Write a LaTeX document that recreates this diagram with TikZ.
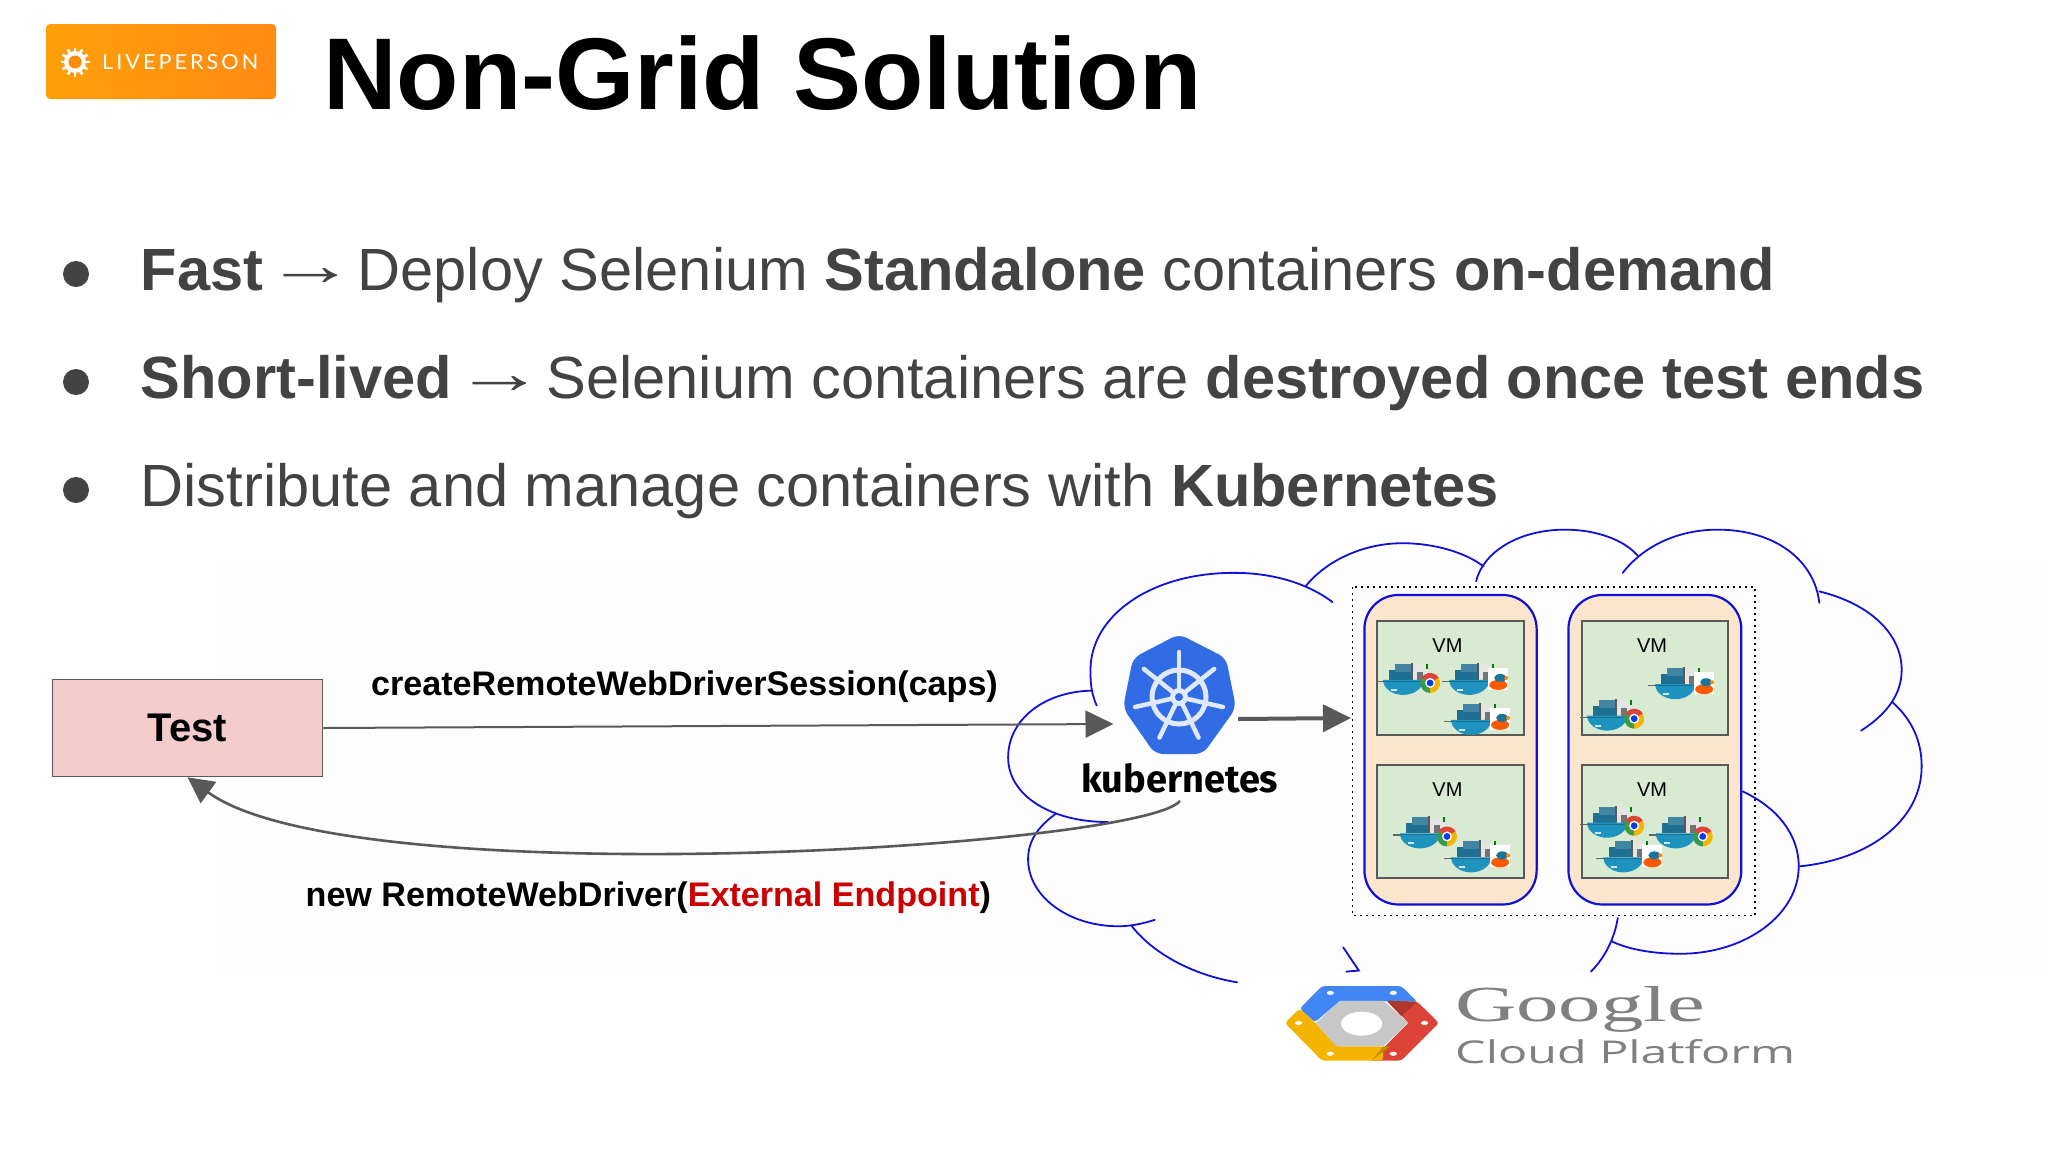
\documentclass[tikz,border=0pt]{standalone}
\usepackage{graphicx}
\usepackage{fontspec}
\setmainfont{Liberation Sans}
\newfontfamily\opensans{Open Sans}
\newfontfamily\serifg{Liberation Serif}
\newfontfamily\kfont{Fira Sans}
\newfontfamily\lpfont[LetterSpace=14]{Lato}
\usetikzlibrary{arrows.meta,calc}
\definecolor{bodygray}{HTML}{434343}
\definecolor{arrowgray}{HTML}{595959}
\definecolor{cloudblue}{HTML}{1010D8}
\definecolor{podfill}{HTML}{FCE5CD}
\definecolor{vmfill}{HTML}{D9EAD3}
\definecolor{testfill}{HTML}{F4CCCC}
\definecolor{kblue}{HTML}{326CE5}
\definecolor{kwhite}{HTML}{DFE9FB}
\definecolor{hull}{HTML}{1F93C0}
\definecolor{box}{HTML}{1F6F92}
\definecolor{gblue}{HTML}{4285F4}
\definecolor{gred}{HTML}{DB4437}
\definecolor{gyellow}{HTML}{F4B400}
\definecolor{ggreen}{HTML}{3B9A4A}
\definecolor{tint}{HTML}{FDFDFE}
\newcommand\pxsize[1]{\fontsize{#1}{#1}\selectfont}
\newcommand\longarrow{\kern-14pt\raisebox{5pt}{\scalebox{1.52}[1]{→}}\kern-15.3pt}
\tikzset{
  bullettext/.style={anchor=base west,inner sep=0pt,text=bodygray,font=\pxsize{59.6}},
  cloudline/.style={draw=cloudblue,line width=1.8pt,line cap=round},
  podbox/.style={draw=cloudblue,line width=2.2pt,fill=podfill,rounded corners=34pt},
  vmbox/.style={draw=arrowgray,line width=2pt,fill=vmfill},
  vmlabel/.style={inner sep=0pt,font=\pxsize{20}},
  flowlabel/.style={anchor=base west,inner sep=0pt,font=\pxsize{34.1}\bfseries},
}
\newcommand\chromeicon{%
  \fill[gred] (27,3) -- ++(-150:10) arc[start angle=-150,delta angle=120,radius=10] -- cycle;
  \fill[gyellow] (27,3) -- ++(-30:10) arc[start angle=-30,delta angle=120,radius=10] -- cycle;
  \fill[ggreen] (27,3) -- ++(90:10) arc[start angle=90,delta angle=120,radius=10] -- cycle;
  \fill[white!85!vmfill] (27,3) circle (5);
  \fill[blue!60!hull] (27,3) circle (3.4);
}
\newcommand\foxicon{%
  \fill[white] (19,-12) rectangle (39,10);
  \fill[orange!70!red] (29,5) ellipse (9 and 5);
  \fill[hull!80!black] (31,-2) ellipse (6 and 4);
  \fill[orange!90!yellow] (37,-2) circle (2);
}
\newcommand\whale[3]{%
  \begin{scope}[shift={(#1,#2)},x=1pt,y=-1pt]
    \fill[box] (-14,-10) rectangle (8,0);
    \fill[box!85!white] (-8,-16) rectangle (8,-8);
    \fill[black!65] (8,-17) rectangle (10,0);
    \fill[white!80!gray] (10,-15) rectangle (25,0);
    \fill[black!55] (14,-8) rectangle (20,0);
    \fill[green!50!black] (23,-16) rectangle (25,-11);
    \draw[black!60,line width=1.2pt] (-27,1.5) -- (-20,1.5);
    \fill[hull] (-20,0) -- (20,0) .. controls (20,9) and (10,15) .. (0,15) .. controls (-10,15) and (-20,9) .. (-20,0) -- cycle;
    \draw[box,line width=1pt] (-20,1.5) -- (20,1.5);
    \fill[white!80!hull] (-12,9) rectangle (-6,11);
    #3
  \end{scope}%
}
\begin{document}
\begin{tikzpicture}[x=1pt,y=-1pt]
\useasboundingbox (0,0) rectangle (2048,1152);
\fill[white] (0,0) rectangle (2048,1152);
\fill[tint] (215,560) rectangle (2048,972);

% logo
\shade[left color={rgb,255:red,255;green,160;blue,10},right color={rgb,255:red,255;green,138;blue,18},rounded corners=4pt] (46,24) rectangle (276,99);
\node[name=lpsun,circle,fill=white,minimum size=22pt,inner sep=0pt] at (75,62) {};
\foreach \a in {0,30,...,330}{\draw[white,line width=2.6pt] (lpsun.center) ++(\a:9) -- ++(\a:5.5);}
\fill[orange!90!yellow] (lpsun.center) circle (6.5);
\node[name=lptext,anchor=base west,inner sep=0pt,text=white] at (102,69) {\resizebox{156pt}{15pt}{\lpfont LIVEPERSON}};

% title
\node[name=title,anchor=base west,inner sep=0pt,font=\pxsize{102}\bfseries] at (323,109) {Non-Grid Solution};

% bullets
\node[name=b1,circle,fill=bodygray,minimum size=26pt,inner sep=0pt] at (76,274) {};
\node[name=b2,circle,fill=bodygray,minimum size=26pt,inner sep=0pt] at (76,382) {};
\node[name=b3,circle,fill=bodygray,minimum size=26pt,inner sep=0pt] at (76,490) {};
\node[name=t1,bullettext] at (140.5,290.5) {\textbf{Fast} \longarrow{} Deploy Selenium \textbf{Standalone} containers \textbf{on-demand}};
\node[name=t2,bullettext] at (140.5,398.5) {\textbf{Short-lived} \longarrow{} Selenium containers are \textbf{destroyed once test ends}};
\node[name=t3,bullettext] at (140.5,506.5) {Distribute and manage containers with \textbf{Kubernetes}};

% cloud, in stretched local units
\begin{scope}[shift={(1000,520)},x=0.624pt,y=-0.357pt]
  \draw[cloudline] (173,846) .. controls (80,846) and (13,770) .. (13,665) .. controls (13,560) and (70,480) .. (148,478);
  \draw[cloudline] (155,520) .. controls (145,480) and (145,450) .. (145,420) .. controls (145,270) and (240,148) .. (375,148) .. controls (440,148) and (495,180) .. (533,230);
  \draw[cloudline] (490,185) .. controls (525,110) and (585,65) .. (645,65) .. controls (695,65) and (745,90) .. (775,130);
  \draw[cloudline] (763,172) .. controls (775,85) and (835,27) .. (905,27) .. controls (955,27) and (1000,55) .. (1022,100);
  \draw[cloudline] (998,148) .. controls (1030,75) and (1085,27) .. (1150,27) .. controls (1240,27) and (1305,110) .. (1313,232);
  \draw[cloudline] (1313,200) .. controls (1395,235) and (1445,320) .. (1445,420) .. controls (1445,490) and (1420,545) .. (1380,590);
  \draw[cloudline] (1430,510) .. controls (1462,560) and (1477,620) .. (1477,690) .. controls (1477,840) and (1395,950) .. (1282,970);
  \draw[cloudline] (1190,760) .. controls (1245,805) and (1280,880) .. (1280,970) .. controls (1280,1105) and (1195,1215) .. (1090,1215) .. controls (1050,1215) and (1010,1205) .. (980,1180);
  \draw[cloudline] (990,1115) .. controls (985,1170) and (970,1225) .. (947,1265);
  \draw[cloudline] (210,1135) .. controls (245,1215) and (310,1275) .. (380,1295);
  \draw[cloudline] (90,822) .. controls (60,860) and (45,900) .. (45,950) .. controls (45,1055) and (110,1138) .. (190,1138) .. controls (210,1138) and (230,1130) .. (248,1120);
  \draw[cloudline] (550,1197) -- (575,1262) -- (555,1265);

  % cluster and VM hosts
  \draw[black,line width=1.6pt,dash pattern=on 2pt off 4pt] (565,187) rectangle (1210,1108);
  \draw[podbox] (584,210) rectangle (860,1077);
  \draw[podbox] (911,210) rectangle (1188,1077);
  \draw[vmbox] (604,282) rectangle (840,601);
  \draw[vmbox] (604,685) rectangle (840,1003);
  \draw[vmbox] (932,282) rectangle (1167,601);
  \draw[vmbox] (932,685) rectangle (1167,1003);
  \node[name=vm1,vmlabel] at (717,352) {VM};
  \node[name=vm2,vmlabel] at (717,755) {VM};
  \node[name=vm3,vmlabel] at (1045,352) {VM};
  \node[name=vm4,vmlabel] at (1045,755) {VM};

  \whale{646}{448}{\chromeicon}
  \whale{752}{448}{\foxicon}
  \whale{755}{560}{\foxicon}
  \whale{1082}{460}{\foxicon}
  \whale{973}{548}{\chromeicon}
  \whale{673}{878}{\chromeicon}
  \whale{755}{945}{\foxicon}
  \whale{973}{848}{\chromeicon}
  \whale{1083}{878}{\chromeicon}
  \whale{999}{945}{\foxicon}
\end{scope}

% kubernetes logo
\fill[kblue,rounded corners=8pt] (1179,634) -- (1226,658) -- (1236,708) -- (1203,754) -- (1155,754) -- (1123,708) -- (1133,658) -- cycle;
\coordinate (wheel) at (1179,697);
\draw[kwhite,line width=5pt] (wheel) circle (27);
\foreach \a in {90,141.43,192.86,244.29,295.71,347.14,38.57}{
  \draw[kwhite,line width=4.5pt,line cap=round] (wheel) ++(\a:-6) -- ++(\a:-39);
}
\fill[kwhite] (wheel) circle (9);
\fill[kblue] (wheel) circle (4);
\node[name=k8s,anchor=base west,inner sep=0pt,font=\kfont\bfseries] at (1081,792) {\resizebox{197pt}{29pt}{kubernetes}};

% test box and flows
\node[name=test,draw=arrowgray,line width=1.5pt,fill=testfill,minimum width=270pt,minimum height=97pt,inner sep=0pt,font=\pxsize{40}\bfseries] at (187.5,728) {Test};
\coordinate (kin) at (1113.5,724);
\coordinate (kout) at (1238,719);
\coordinate (cin) at (1351,718);
\coordinate (kret) at (1180,801);
\draw[arrowgray,line width=2pt,-{Triangle[length=28pt,width=27pt]}] (test.east) -- (kin);
\draw[arrowgray,line width=4pt,-{Triangle[length=28pt,width=27pt]}] (kout) -- (cin);
\draw[arrowgray,line width=2.6pt,-{Triangle[length=26pt,width=26pt]}] (kret) .. controls (1140,848) and (350,896) .. (test.south);
\node[name=create,flowlabel] at (371,695) {createRemoteWebDriverSession(caps)};
\node[name=newdrv,flowlabel] at (305.5,906) {new RemoteWebDriver(\textcolor[HTML]{CC0000}{External Endpoint})};

% Google Cloud Platform logo
\begin{scope}[shift={(1259,958)},x=0.36pt,y=-0.342pt]
  \fill[gblue,rounded corners=3pt] (175,82) -- (395,82) -- (440,128) -- (225,125) -- (155,188) -- (113,148) -- cycle;
  \fill[gred,rounded corners=3pt] (440,128) -- (500,190) -- (395,300) -- (310,300) -- (415,190) -- (355,125) -- cycle;
  \fill[gred!80!black] (355,125) -- (440,128) -- (395,170) -- cycle;
  \fill[gyellow,rounded corners=3pt] (113,148) -- (72,190) -- (175,300) -- (345,300) -- (345,258) -- (215,258) -- (155,188) -- cycle;
  \fill[gyellow!80!black] (345,258) -- (365,258) -- (312,300) -- cycle;
  \fill[black!22] (225,125) -- (345,125) -- (415,190) -- (345,258) -- (215,258) -- (158,190) -- cycle;
  \fill[white] (285,192) ellipse (57 and 35);
  \foreach \dx/\dy in {198/102,373/102,110/190,460/190,198/280,373/280}{\fill[white] (\dx,\dy) ellipse (10 and 6);}
\end{scope}
\node[name=google,anchor=base west,inner sep=0pt,text=black!50,font=\serifg] at (1455,1021) {\resizebox{250pt}{35pt}{Google}};
\node[name=gcp,anchor=base west,inner sep=0pt,text=black!50,font=\opensans] at (1455,1063) {\resizebox{340pt}{24pt}{Cloud Platform}};
\end{tikzpicture}
\end{document}
